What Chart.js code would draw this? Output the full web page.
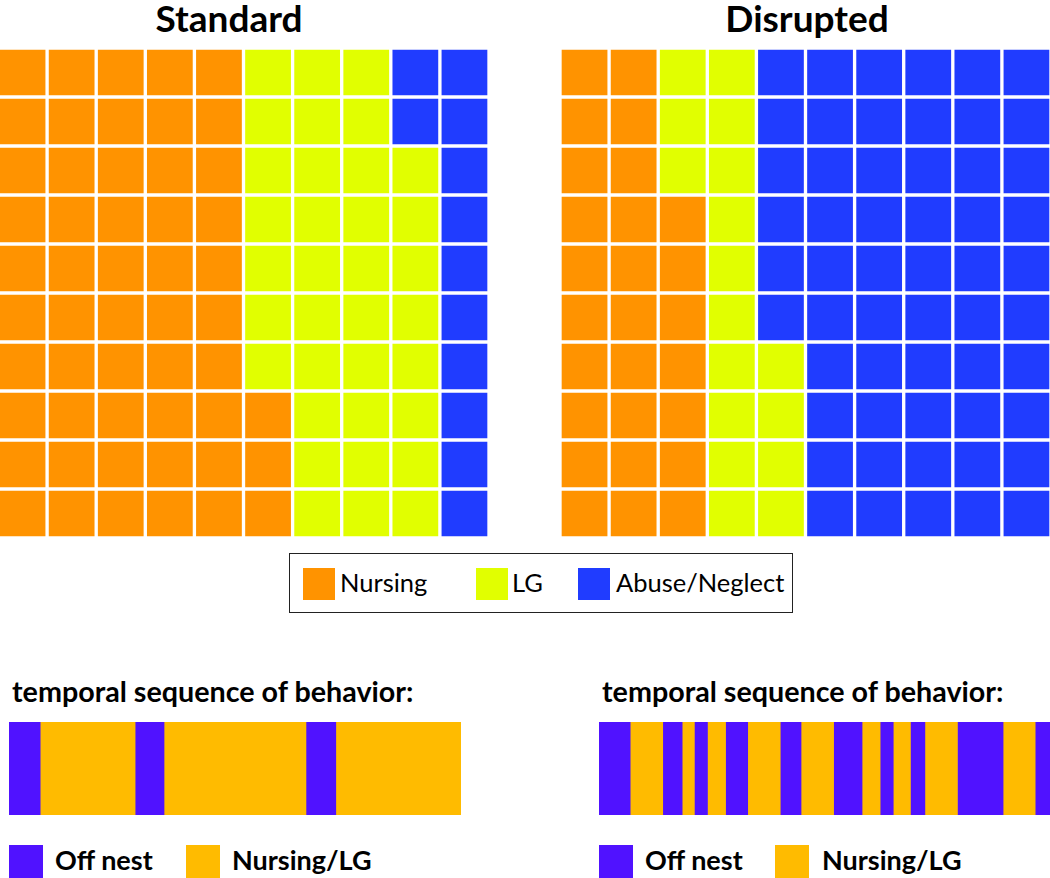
<!DOCTYPE html>
<html>
<head>
<meta charset="utf-8">
<script src="https://cdn.jsdelivr.net/npm/chart.js@4.4.1/dist/chart.umd.min.js"></script>
<style>
  html, body { margin: 0; padding: 0; background: #fff; }
  body { width: 1050px; height: 878px; position: relative; overflow: hidden; font-family: Lato, "Open Sans", sans-serif; color: #000; }
  .box { position: absolute; }
  .title { position: absolute; font-weight: bold; font-size: 37px; line-height: 1; white-space: nowrap; transform: translateX(-50%); }
  .seqTitle { position: absolute; font-weight: bold; font-size: 28.7px; line-height: 1; white-space: nowrap; }
  .legend { position: absolute; left: 289px; top: 553px; width: 502px; height: 58px; border: 1.5px solid #222; }
  .sw { position: absolute; width: 32px; height: 32px; }
  .lt { position: absolute; font-size: 25.5px; line-height: 1; white-space: nowrap; }
  .bt { position: absolute; font-size: 27px; font-weight: bold; line-height: 1; white-space: nowrap; }
</style>
</head>
<body>

<div class="title" style="left:229px; top:-1px;">Standard</div>
<div class="title" style="left:807px; top:-1px;">Disrupted</div>

<div class="box" style="left:-2px; top:48px; width:491px; height:490px;"><canvas id="wafStd"></canvas></div>
<div class="box" style="left:560px; top:48px; width:491px; height:490px;"><canvas id="wafDis"></canvas></div>

<div class="legend" id="wafLegend"></div>

<div class="seqTitle" style="left:12px; top:677px;">temporal sequence of behavior:</div>
<div class="seqTitle" style="left:602px; top:677px;">temporal sequence of behavior:</div>

<div class="box" style="left:9px; top:722px; width:452px; height:93px;"><canvas id="seqStd"></canvas></div>
<div class="box" style="left:599px; top:722px; width:452px; height:93px;"><canvas id="seqDis"></canvas></div>

<div id="seqLegends"></div>

<script>
// waffle categories and colours
const wafCategories = ['Nursing', 'LG', 'Abuse/Neglect'];
const wafColors = ['#ff9300', '#e1ff00', '#203cff'];

// cells per row (10 rows of 10), top row first
const stdNursing = [5, 5, 5, 5, 5, 5, 5, 6, 6, 6];
const stdLG      = [3, 3, 4, 4, 4, 4, 4, 3, 3, 3];
const stdAbuse   = [2, 2, 1, 1, 1, 1, 1, 1, 1, 1];

const disNursing = [2, 2, 2, 3, 3, 3, 3, 3, 3, 3];
const disLG      = [2, 2, 2, 1, 1, 1, 2, 2, 2, 2];
const disAbuse   = [6, 6, 6, 6, 6, 6, 5, 5, 5, 5];

// temporal sequence: bout lengths (% of session), alternating, starting off nest
const seqCategories = ['Off nest', 'Nursing/LG'];
const seqColors = ['#5012ff', '#ffbb00'];
const stdBouts = [6.9, 21.0, 6.4, 31.4, 6.6, 27.7];
const disBouts = [6.9, 7.2, 4.3, 2.7, 2.9, 4.0, 4.9, 7.2, 4.6, 7.2, 6.3, 4.0, 2.9, 3.8, 3.2, 7.2, 10.1, 7.1, 3.5];

const rowLabels = ['1', '2', '3', '4', '5', '6', '7', '8', '9', '10'];

// Method: BuildWaffle
// Purpose: one stacked horizontal bar per row, one dataset per column,
//          each cell coloured from the row's category counts.
function BuildWaffle(id, counts) {
  let datasets = [];
  for (let c = 0; c < 10; ++c) {
    let colors = rowLabels.map((lbl, r) => {
      let total = 0;
      for (let k = 0; k < counts.length; ++k) {
        total += counts[k][r];
        if (c < total) return wafColors[k];
      }
      return wafColors[counts.length - 1];
    });
    datasets.push({
      data: rowLabels.map(() => 1),
      backgroundColor: colors,
      borderColor: '#ffffff',
      borderWidth: 2,
      borderSkipped: false,
      barPercentage: 1,
      categoryPercentage: 1,
    });
  }

  new Chart(document.getElementById(id), {
    type: 'bar',
    data: { labels: rowLabels, datasets: datasets },
    options: {
      indexAxis: 'y',
      responsive: true,
      maintainAspectRatio: false,
      animation: false,
      layout: { padding: 0 },
      plugins: { legend: { display: false }, tooltip: { enabled: false } },
      scales: {
        x: { stacked: true, min: 0, max: 10, display: false },
        y: { stacked: true, display: false },
      },
    },
  });
}

// Method: BuildSequence
// Purpose: a single stacked bar, one dataset per bout.
function BuildSequence(id, bouts) {
  let datasets = bouts.map((len, i) => ({
    label: seqCategories[i % 2],
    data: [len],
    backgroundColor: seqColors[i % 2],
    borderWidth: 0,
    barPercentage: 1,
    categoryPercentage: 1,
  }));

  new Chart(document.getElementById(id), {
    type: 'bar',
    data: { labels: ['session'], datasets: datasets },
    options: {
      indexAxis: 'y',
      responsive: true,
      maintainAspectRatio: false,
      animation: false,
      layout: { padding: 0 },
      plugins: { legend: { display: false }, tooltip: { enabled: false } },
      scales: {
        x: { stacked: true, min: 0, max: 100, display: false },
        y: { stacked: true, display: false },
      },
    },
  });
}

BuildWaffle('wafStd', [stdNursing, stdLG, stdAbuse]);
BuildWaffle('wafDis', [disNursing, disLG, disAbuse]);
BuildSequence('seqStd', stdBouts);
BuildSequence('seqDis', disBouts);

// waffle legend
const wafLegend = document.getElementById('wafLegend');
const wafSwatchX = [13, 186, 288];
const wafTextX = [50, 222, 326];
wafCategories.forEach((name, i) => {
  let sw = document.createElement('div');
  sw.className = 'sw';
  sw.style.left = wafSwatchX[i] + 'px';
  sw.style.top = '14px';
  sw.style.background = wafColors[i];
  wafLegend.appendChild(sw);
  let t = document.createElement('div');
  t.className = 'lt';
  t.style.left = wafTextX[i] + 'px';
  t.style.top = '16px';
  t.textContent = name;
  wafLegend.appendChild(t);
});

// sequence legends
const seqLegends = document.getElementById('seqLegends');
[[9, 55, 186, 232], [599, 645, 775, 822]].forEach((pos) => {
  seqCategories.forEach((name, i) => {
    let sw = document.createElement('div');
    sw.className = 'sw';
    sw.style.left = pos[i * 2] + 'px';
    sw.style.top = '845px';
    sw.style.width = '34px';
    sw.style.height = '34px';
    sw.style.background = seqColors[i];
    seqLegends.appendChild(sw);
    let t = document.createElement('div');
    t.className = 'bt';
    t.style.left = pos[i * 2 + 1] + 'px';
    t.style.top = '846px';
    t.textContent = name;
    seqLegends.appendChild(t);
  });
});
</script>
</body>
</html>
